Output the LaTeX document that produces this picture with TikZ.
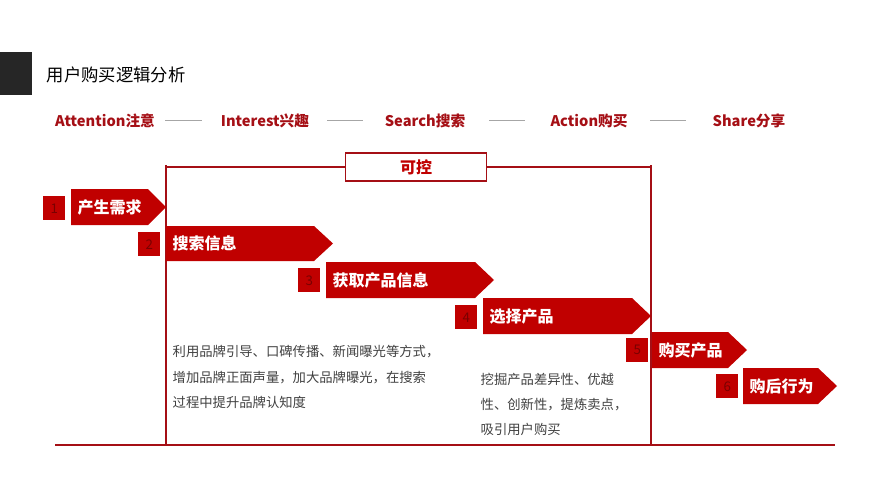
\documentclass[tikz,border=0pt]{standalone}
\usepackage{fontspec}
\setmainfont{Noto Sans CJK SC}
\definecolor{rd}{HTML}{C00000}
\definecolor{drd}{HTML}{A50F15}
\definecolor{numc}{HTML}{7A0000}
\definecolor{gt}{HTML}{404040}
\begin{document}
\begin{tikzpicture}[x=0.75pt,y=-0.75pt,
  hdr/.style={text=drd,font=\bfseries\fontsize{11}{13}\selectfont,anchor=center},
  dsh/.style={draw=gray!70,line width=0.6pt},
  numbox/.style={fill=rd,text=numc,font=\fontsize{10}{12}\selectfont,minimum width=16.5pt,minimum height=18pt,inner sep=0pt,anchor=north west},
  arrtxt/.style={text=white,font=\bfseries\fontsize{12}{14}\selectfont,anchor=west},
  rl/.style={draw=drd,line width=0.8pt},
  para/.style={text=gt,font=\fontsize{10}{19}\selectfont,align=left,anchor=north west}]
\useasboundingbox (0,0) rectangle (889,500);
\fill[black!85] (0,52) rectangle (32,95);
\node[anchor=west,font=\fontsize{13}{15}\selectfont] (title) at (42,75) {用户购买逻辑分析};
\node[hdr] (h1) at (105,121) {Attention注意};
\node[hdr] (h2) at (265,121) {Interest兴趣};
\node[hdr] (h3) at (425,121) {Search搜索};
\node[hdr] (h4) at (589,121) {Action购买};
\node[hdr] (h5) at (749,121) {Share分享};
\foreach \a/\b in {165/202,327/363,489/525,650/686} \draw[dsh] (\a,120) -- (\b,120);
% frame
\draw[rl] (166,165) -- (166,445);
\draw[rl] (651,165) -- (651,445);
\draw[rl] (55,445) -- (835,445);
\node[draw=drd,line width=0.8pt,minimum width=106pt,minimum height=21pt,inner sep=0pt,text=rd,font=\bfseries\fontsize{12}{14}\selectfont] (ctl) at (416,167) {可控};
\draw[rl] (166,167) -- (ctl.west);
\draw[rl] (ctl.east) -- (651,167);
% arrows
\foreach \i/\sx/\sy/\ax/\bx/\tx/\ay/\by/\t in {
 1/43/196/71/148/166/189/225/产生需求,
 2/138/232/166/314/333/226/261/搜索信息,
 3/298/268/326/475/494/262/298/获取产品信息,
 4/455/305/483/632/651/298/334/选择产品,
 5/626/338/652/728/747/332/368/购买产品,
 6/716/374/743/818/837/368/404/购后行为}{
 \node[numbox] (n\i) at (\sx,\sy) {\i};
 \fill[rd] (\ax,\ay) -- (\bx,\ay) -- (\tx,{(\ay+\by)/2}) -- (\bx,\by) -- (\ax,\by) -- cycle;
 \node[arrtxt] (a\i) at ({\ax+2},{(\ay+\by)/2}) {\t};
}
\node[para] (p1) at (168,341) {利用品牌引导、口碑传播、新闻曝光等方式，\\增加品牌正面声量，加大品牌曝光，在搜索\\过程中提升品牌认知度};
\node[para] (p2) at (476,368) {挖掘产品差异性、优越\\性、创新性，提炼卖点，\\吸引用户购买};
\end{tikzpicture}
\end{document}
